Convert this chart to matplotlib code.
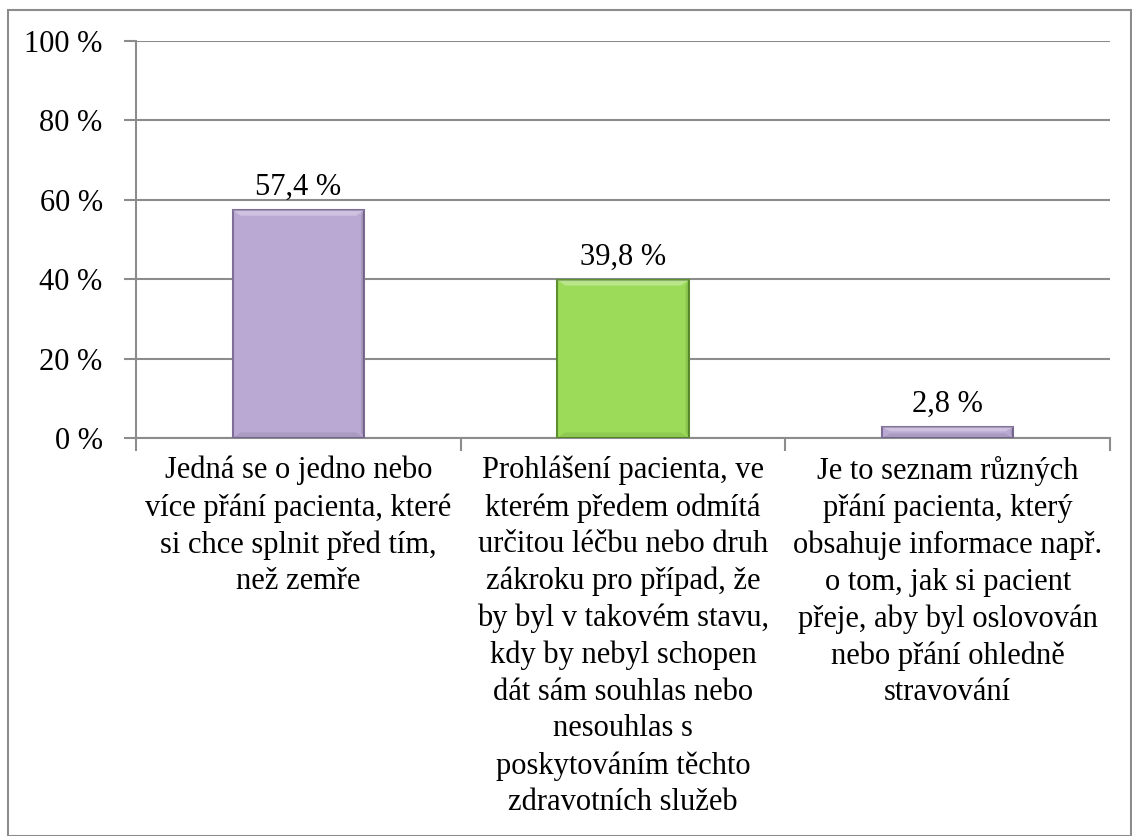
import matplotlib
matplotlib.use("Agg")
import matplotlib.pyplot as plt
from matplotlib.patches import Rectangle, Polygon

categories = [
    "Jedná se o jedno nebo\nvíce přání pacienta, které\nsi chce splnit před tím,\nnež zemře",
    "Prohlášení pacienta, ve\nkterém předem odmítá\nurčitou léčbu nebo druh\nzákroku pro případ, že\nby byl v takovém stavu,\nkdy by nebyl schopen\ndát sám souhlas nebo\nnesouhlas s\nposkytováním těchto\nzdravotních služeb",
    "Je to seznam různých\npřání pacienta, který\nobsahuje informace např.\no tom, jak si pacient\npřeje, aby byl oslovován\nnebo přání ohledně\nstravování",
]
values = [57.4, 39.8, 2.8]
value_labels = ["57,4 %", "39,8 %", "2,8 %"]
bar_colors = ["#B9A9D3", "#9CDB59"]
edge_colors = ["#7E6E98", "#5E8F2E"]
yticks = [0, 20, 40, 60, 80, 100]
ytick_labels = ["0 %", "20 %", "40 %", "60 %", "80 %", "100 %"]

plt.rcParams['font.family'] = ['Liberation Serif', 'DejaVu Serif']
FS = 22

fig = plt.figure(figsize=(11.32, 8.36), dpi=100)
fig.patches.append(Rectangle((8/1132, 0), 1 - 8/1132 - 0.001, 1 - 10/836, transform=fig.transFigure,
                             fill=False, edgecolor="#8c8c8c", linewidth=1.5))
ax = fig.add_axes([136/1132, 1 - 438/836, (1110-136)/1132, (438-41)/836])

x = list(range(len(values)))
width = 0.405
cols = [bar_colors[0], bar_colors[1], bar_colors[0]]
ecols = [edge_colors[0], edge_colors[1], edge_colors[0]]
bars = ax.bar(x, values, width=width, color=cols, edgecolor=ecols, linewidth=1.5, zorder=3)

# bevel highlight / shade
for b, c in zip(bars, cols):
    x0, y0 = b.get_x(), b.get_y()
    w, h = b.get_width(), b.get_height()
    dx = w * 0.06
    dy = min(h * 0.4, 1.4)
    top = Polygon([(x0, y0 + h), (x0 + w, y0 + h), (x0 + w - dx, y0 + h - dy), (x0 + dx, y0 + h - dy)],
                  closed=True, facecolor="white", alpha=0.3, edgecolor="none", zorder=4)
    bot = Polygon([(x0, y0), (x0 + w, y0), (x0 + w - dx, y0 + dy), (x0 + dx, y0 + dy)],
                  closed=True, facecolor="black", alpha=0.08, edgecolor="none", zorder=4)
    right = Polygon([(x0 + w, y0), (x0 + w, y0 + h), (x0 + w - dx * 0.4, y0 + h - dy), (x0 + w - dx * 0.4, y0 + dy)],
                    closed=True, facecolor="black", alpha=0.10, edgecolor="none", zorder=4)
    for p in (top, bot, right):
        ax.add_patch(p)

for xi, v, lab in zip(x, values, value_labels):
    ax.text(xi, v + 2.0, lab, ha="center", va="bottom", fontsize=FS, color="black")

ax.set_xlim(-0.5, len(values) - 0.5)
ax.set_ylim(0, 100)
ax.set_yticks(yticks)
ax.set_yticklabels(ytick_labels, fontsize=FS)
ax.yaxis.grid(True, color="#8c8c8c", linewidth=1.5, zorder=0)
ax.set_axisbelow(True)
for s in ["top", "right"]:
    ax.spines[s].set_visible(False)
ax.spines["left"].set_color("#8c8c8c")
ax.spines["bottom"].set_color("#8c8c8c")
ax.spines["left"].set_linewidth(1.5)
ax.spines["bottom"].set_linewidth(1.5)
ax.tick_params(axis="y", length=9, width=1.5, color="#8c8c8c", pad=15)

ax.set_xticks([i - 0.5 for i in range(len(values) + 1)])
ax.set_xticklabels([])
ax.tick_params(axis="x", length=9, width=1.5, color="#8c8c8c")

for xi, lab in zip(x, categories):
    ax.text(xi, -4.5, lab, ha="center", va="top", fontsize=FS, linespacing=1.34,
            transform=ax.transData, clip_on=False)

fig.savefig("out.png", dpi=100)
